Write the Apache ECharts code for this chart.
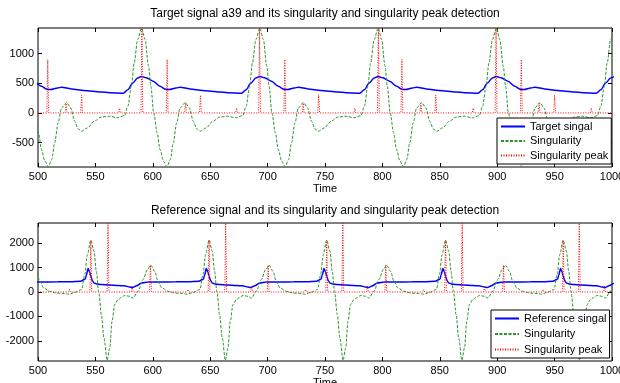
<!DOCTYPE html>
<html>
<head>
<meta charset="utf-8">
<script src="https://cdn.jsdelivr.net/npm/echarts@6/dist/echarts.min.js"></script>
<style>
  html, body { margin: 0; padding: 0; background: #fff; }
  #chart { width: 620px; height: 383px; }
</style>
</head>
<body>
<div id="chart"></div>
<script>
// top panel: target signal a39
const topTarget = [
  [497,535],[503,450],[508,397],[511,393],[517,420],[520.5,432],[529,405],[540,378],[555,354],
  [562.3,340],[574.3,333],[578.3,390],[582.3,500],[586.8,588],[590.3,615],[594.3,592],[600.3,535],[606.3,450],[611.3,397],[614.3,393],[620.3,420],[623.8,432],[632.3,405],[643.3,378],[658.3,354],
  [665.3,340],[677.3,333],[681.3,390],[685.3,500],[689.8,588],[693.3,615],[697.3,592],[703.3,535],[709.3,450],[714.3,397],[717.3,393],[723.3,420],[726.8,432],[735.3,405],[746.3,378],[761.3,354],
  [768.3,340],[780.3,333],[784.3,390],[788.3,500],[792.8,588],[796.3,615],[800.3,592],[806.3,535],[812.3,450],[817.3,397],[820.3,393],[826.3,420],[829.8,432],[838.3,405],[849.3,378],[864.3,354],
  [871.3,340],[883.3,333],[887.3,390],[891.3,500],[895.8,588],[899.3,615],[903.3,592],[909.3,535],[915.3,450],[920.3,397],[923.3,393],[929.3,420],[932.8,432],[941.3,405],[952.3,378],[967.3,354],
  [974.3,340],[986.3,333],[990.3,390],[994.3,500],[998.8,588],[1002.3,615]
];
const topSingularity = [
  [497.5,0],[500.5,-337],[503,-616],[506,-813],[509,-905],[512,-785],[514.5,-505],[517.5,-168],[520.5,84],[525,175],[528.5,84],[532,-140],[535,-269],[538,-308],[543,-253],[549,-140],[555,-70],[562,-55],[569,-82],
  [575.3,-45],[578.3,113],[581.3,449],[583.8,842],[586.8,1235],[590.3,1430],[593.3,1235],[596.3,786],[598.3,449],[600.8,0],[603.8,-337],[606.3,-616],[609.3,-813],[612.3,-905],[615.3,-785],[617.8,-505],[620.8,-168],[623.8,84],[628.3,175],[631.8,84],[635.3,-140],[638.3,-269],[641.3,-308],[646.3,-253],[652.3,-140],[658.3,-70],[665.3,-55],[672.3,-82],
  [678.3,-45],[681.3,113],[684.3,449],[686.8,842],[689.8,1235],[693.3,1430],[696.3,1235],[699.3,786],[701.3,449],[703.8,0],[706.8,-337],[709.3,-616],[712.3,-813],[715.3,-905],[718.3,-785],[720.8,-505],[723.8,-168],[726.8,84],[731.3,175],[734.8,84],[738.3,-140],[741.3,-269],[744.3,-308],[749.3,-253],[755.3,-140],[761.3,-70],[768.3,-55],[775.3,-82],
  [781.3,-45],[784.3,113],[787.3,449],[789.8,842],[792.8,1235],[796.3,1430],[799.3,1235],[802.3,786],[804.3,449],[806.8,0],[809.8,-337],[812.3,-616],[815.3,-813],[818.3,-905],[821.3,-785],[823.8,-505],[826.8,-168],[829.8,84],[834.3,175],[837.8,84],[841.3,-140],[844.3,-269],[847.3,-308],[852.3,-253],[858.3,-140],[864.3,-70],[871.3,-55],[878.3,-82],
  [884.3,-45],[887.3,113],[890.3,449],[892.8,842],[895.8,1235],[899.3,1430],[902.3,1235],[905.3,786],[907.3,449],[909.8,0],[912.8,-337],[915.3,-616],[918.3,-813],[921.3,-905],[924.3,-785],[926.8,-505],[929.8,-168],[932.8,84],[937.3,175],[940.8,84],[944.3,-140],[947.3,-269],[950.3,-308],[955.3,-253],[961.3,-140],[967.3,-70],[974.3,-55],[981.3,-82],
  [987.3,-45],[990.3,113],[993.3,449],[995.8,842],[998.8,1235],[1002.3,1430]
];
const topPeakTime = [508.5,524.5,538,571,590.5,612.5,628.5,641.5,673,693,715,731,744.5,776,796.5,817,833.5,846.5,879,899,921,936.5,950,982];
const topPeakValue = [900,160,300,80,1430,900,165,300,80,1430,900,165,310,80,1430,900,160,300,80,1430,900,165,300,80];

// bottom panel: reference signal
const bottomReference = [
  [493,410],[503,412],[517,415],[528,420],
  [537,440],[541,520],[542.2,700],[543.6,965],[545,820],[546,643],[547.5,450],[548.8,369],[551,330],[555.2,303],[562,285],[569.7,262],[575,255],[579.9,205],[582.3,180],[586,260],[590,369],[596,410],[606,412],[620,415],[631,420],
  [640,440],[644,520],[645.2,700],[646.6,965],[648,820],[649,643],[650.5,450],[651.8,369],[654,330],[658.2,303],[665,285],[672.7,262],[678,255],[682.9,205],[685.3,180],[689,260],[693,369],[699,410],[709,412],[723,415],[734,420],
  [742.5,440],[746.5,520],[747.7,700],[749.1,965],[750.5,820],[751.5,643],[753,450],[754.3,369],[756.5,330],[760.7,303],[767.5,285],[775.2,262],[780.5,255],[785.4,205],[787.8,180],[791.5,260],[795.5,369],[801.5,410],[811.5,412],[825.5,415],[836.5,420],
  [846,440],[850,520],[851.2,700],[852.6,965],[854,820],[855,643],[856.5,450],[857.8,369],[860,330],[864.2,303],[871,285],[878.7,262],[884,255],[888.9,205],[891.3,180],[895,260],[899,369],[905,410],[915,412],[929,415],[940,420],
  [948.5,440],[952.5,520],[953.7,700],[955.1,965],[956.5,820],[957.5,643],[959,450],[960.3,369],[962.5,330],[966.7,303],[973.5,285],[981.2,262],[986.5,255],[991.4,205],[993.8,180],[997.5,260],[1001.5,369]
];
const bottomSingularity = [
  [495.2,1094],[498.7,848],[501.5,438],[505,164],[510.2,29],[516,-41],[523,-60],
  [527,-90],[532,-15],[538,100],[540.7,713],[543,1530],[546,2120],[548.8,1668],[550.8,848],[552.9,0],[555.2,-926],[557.5,-1885],[560.2,-2790],[562.5,-2295],[564.5,-1200],[566.8,-516],[569.7,-311],[572.5,-230],[575.5,-140],[579.9,-176],[582.8,-250],[587.1,29],[591.5,508],[595.3,918],[598.2,1094],[601.7,848],[604.5,438],[608,164],[613.2,29],[619,-41],[626,-60],
  [630,-90],[635,-15],[641,100],[643.7,713],[646,1530],[649,2120],[651.8,1668],[653.8,848],[655.9,0],[658.2,-926],[660.5,-1885],[663.2,-2790],[665.5,-2295],[667.5,-1200],[669.8,-516],[672.7,-311],[675.5,-230],[678.5,-140],[682.9,-176],[685.8,-250],[690.1,29],[694.5,508],[698.3,918],[701.2,1094],[704.7,848],[707.5,438],[711,164],[716.2,29],[722,-41],[729,-60],
  [732.5,-90],[737.5,-15],[743.5,100],[746.2,713],[748.5,1530],[751.5,2120],[754.3,1668],[756.3,848],[758.4,0],[760.7,-926],[763,-1885],[765.7,-2790],[768,-2295],[770,-1200],[772.3,-516],[775.2,-311],[778,-230],[781,-140],[785.4,-176],[788.3,-250],[792.6,29],[797,508],[800.8,918],[803.7,1094],[807.2,848],[810,438],[813.5,164],[818.7,29],[824.5,-41],[831.5,-60],
  [836,-90],[841,-15],[847,100],[849.7,713],[852,1530],[855,2120],[857.8,1668],[859.8,848],[861.9,0],[864.2,-926],[866.5,-1885],[869.2,-2790],[871.5,-2295],[873.5,-1200],[875.8,-516],[878.7,-311],[881.5,-230],[884.5,-140],[888.9,-176],[891.8,-250],[896.1,29],[900.5,508],[904.3,918],[907.2,1094],[910.7,848],[913.5,438],[917,164],[922.2,29],[928,-41],[935,-60],
  [938.5,-90],[943.5,-15],[949.5,100],[952.2,713],[954.5,1530],[957.5,2120],[960.3,1668],[962.3,848],[964.4,0],[966.7,-926],[969,-1885],[971.7,-2790],[974,-2295],[976,-1200],[978.3,-516],[981.2,-311],[984,-230],[987,-140],[991.4,-176],[994.3,-250],[998.6,29],[1003,508]
];
const bottomPeakTime = [527.5,546,561,582,598,630.5,649,663.5,686,700.5,733,751.5,765.5,787,803,836,855,869.5,889,905.5,940,957.5,971.5,993.5];
const bottomPeakValue = [110,2110,2820,235,1090,105,2130,2820,245,1100,100,2120,2820,240,1100,100,2120,2820,240,1100,100,2120,2820,240];

const topTicks = [-500, 0, 500, 1000];
const bottomTicks = [-2000, -1000, 0, 1000, 2000];

const FONT = 'Liberation Sans';

// zero line with a narrow spike at every detected peak
function spikes(times, values) {
    let d = [[500, 0]];
    times.forEach((t, i) => {
        d.push([t - 0.8, 0], [t, values[i]], [t + 0.8, 0]);
    });
    d.push([1000, 0]);
    return d;
}

function plain(v) {
    return String(v);
}

function xAxes(grid) {
    let base = {
        gridIndex: grid, type: 'value', min: 500, max: 1000, interval: 50,
        axisLine: {show: false, onZero: false},
        axisTick: {inside: true, length: 4, lineStyle: {color: '#000'}},
        splitLine: {show: false}
    };
    return [
        Object.assign({}, base, {
            position: 'bottom',
            name: 'Time', nameLocation: 'middle', nameGap: 16,
            nameTextStyle: {fontSize: 11, color: '#000', fontFamily: FONT},
            axisLabel: {fontSize: 11, color: '#000', margin: 4, fontFamily: FONT, formatter: plain}
        }),
        Object.assign({}, base, {position: 'top', axisLabel: {show: false}})
    ];
}

function yAxes(grid, min, max, ticks) {
    let base = {
        gridIndex: grid, type: 'value', min: min, max: max,
        axisLine: {show: false, onZero: false},
        axisTick: {inside: true, length: 4, lineStyle: {color: '#000'}, customValues: ticks},
        splitLine: {show: false}
    };
    return [
        Object.assign({}, base, {
            position: 'left',
            axisLabel: {fontSize: 11, color: '#000', margin: 4, fontFamily: FONT, customValues: ticks, formatter: plain}
        }),
        Object.assign({}, base, {position: 'right', axisLabel: {show: false}})
    ];
}

function lineSeries(name, data, axis, style, smooth) {
    return {
        name: name, type: 'line', data: data,
        xAxisIndex: axis, yAxisIndex: axis,
        symbol: 'none', smooth: smooth, smoothMonotone: 'x',
        lineStyle: style, itemStyle: {color: style.color},
        emphasis: {disabled: true}
    };
}

const blueStyle = {color: '#0000ff', width: 1.5};
const greenStyle = {color: '#2a962a', width: 1, type: [3, 1.5]};
const redStyle = {color: '#ff0000', width: 1, type: [1, 1.5]};

function legendBox(names, left, top, gap) {
    return {
        data: names, orient: 'vertical', left: left, top: top,
        padding: [3, 3, 3, 3], itemGap: gap, itemWidth: 24, itemHeight: 11,
        backgroundColor: '#fff', borderColor: '#000', borderWidth: 1,
        itemStyle: {color: 'rgba(0,0,0,0)', borderColor: 'rgba(0,0,0,0)', borderWidth: 0},
        textStyle: {fontSize: 11, color: '#000', fontFamily: FONT},
        selectedMode: false
    };
}

let chart = echarts.init(document.getElementById('chart'));
chart.setOption({
    animation: false,
    textStyle: {fontFamily: FONT},
    grid: [
        {left: 38, top: 28, width: 574, height: 139, show: true, borderColor: '#000', borderWidth: 1, outerBoundsMode: 'none'},
        {left: 38, top: 223, width: 574, height: 138, show: true, borderColor: '#000', borderWidth: 1, outerBoundsMode: 'none'}
    ],
    xAxis: xAxes(0).concat(xAxes(1)),
    yAxis: yAxes(0, -910, 1430, topTicks).concat(yAxes(1, -2820, 2820, bottomTicks)),
    graphic: [
        {type: 'text', x: 325, y: 14, style: {text: 'Target signal a39 and its singularity and singularity peak detection', font: '12px ' + FONT, fill: '#000', align: 'center', verticalAlign: 'middle'}},
        {type: 'text', x: 325, y: 211, style: {text: 'Reference signal and its singularity and singularity peak detection', font: '12px ' + FONT, fill: '#000', align: 'center', verticalAlign: 'middle'}}
    ],
    legend: [
        legendBox(['Target singal', 'Singularity', 'Singularity peak'], 497, 118, 3.5),
        legendBox(['Reference singal', 'Singularity', 'Singularity peak'], 491, 310, 4.5)
    ],
    series: [
        lineSeries('Target singal', topTarget, 0, blueStyle, 0.3),
        lineSeries('Singularity', topSingularity, 0, greenStyle, 0.3),
        lineSeries('Singularity peak', spikes(topPeakTime, topPeakValue), 0, redStyle, false),
        lineSeries('Reference singal', bottomReference, 2, blueStyle, 0.3),
        lineSeries('Singularity', bottomSingularity, 2, greenStyle, 0.3),
        lineSeries('Singularity peak', spikes(bottomPeakTime, bottomPeakValue), 2, redStyle, false)
    ]
});
</script>
</body>
</html>
